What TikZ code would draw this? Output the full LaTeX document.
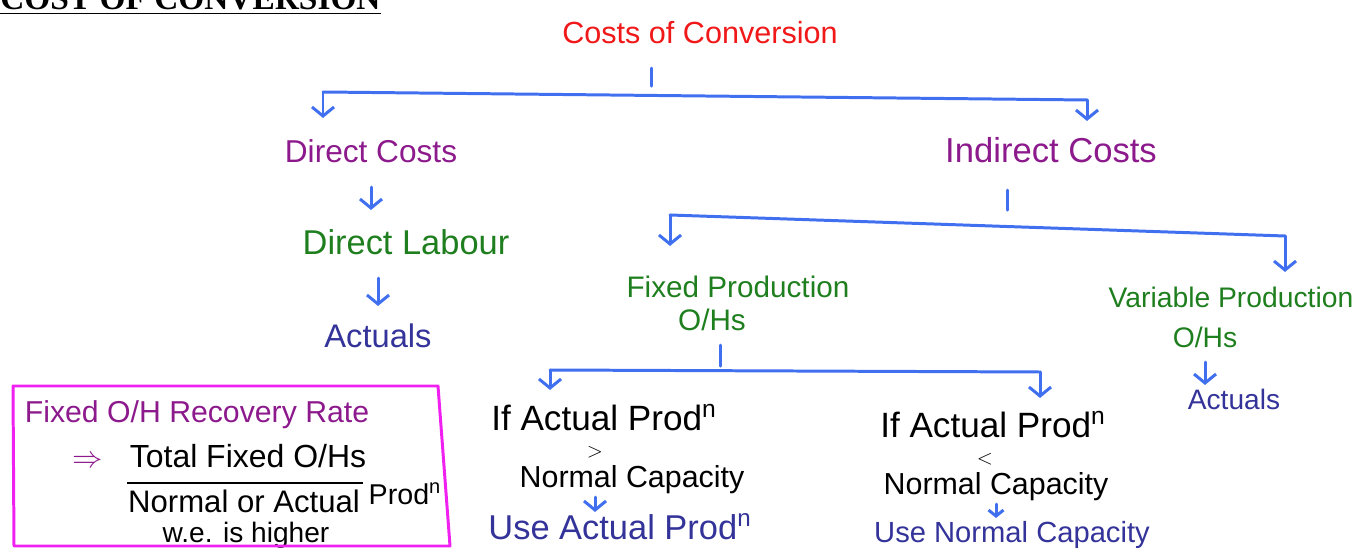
\documentclass[tikz,border=0pt]{standalone}
\usepackage{fontspec}
\setmainfont{Liberation Sans}
\newfontfamily\titlefont{Liberation Serif}
\usepackage{tikz}
\usetikzlibrary{arrows.meta}
\definecolor{cred}{HTML}{F01818}
\definecolor{cpurple}{HTML}{8C1A8C}
\definecolor{cgreen}{HTML}{1F7F1F}
\definecolor{cnavy}{HTML}{33339A}
\definecolor{cblue}{HTML}{4070F0}
\definecolor{cmagenta}{HTML}{F020F0}
\newcommand\fsz[1]{\fontsize{#1}{#1}\selectfont}

\begin{document}
\begin{tikzpicture}[x=0.02cm,y=-0.02cm,
    lbl/.style={inner sep=1pt, text height=13pt, text depth=4pt},
    line/.style={draw=cblue, line width=1.7pt, line cap=round, line join=round},
    arr/.style={line, -{Straight Barb[length=1.8mm,width=4.4mm]}},
    sarr/.style={line, -{Straight Barb[length=1.2mm,width=3mm]}}]
\useasboundingbox (0,0) rectangle (1371,553);

    \node[anchor=base west, inner sep=0pt, font=\titlefont\bfseries\fsz{19}] (title) at (0,10) {\underline{COST OF CONVERSION}};

    \node[lbl, text=cred, font=\fsz{17.4}] (coc) at (700,36) {Costs of Conversion};
    \node[lbl, text=cpurple, font=\fsz{18}] (dc) at (371,155) {Direct Costs};
    \node[lbl, text=cpurple, font=\fsz{19.7}] (ic) at (1051,155) {Indirect Costs};
    \node[lbl, text=cgreen, font=\fsz{19.6}] (dl) at (406,247) {Direct Labour};
    \node[lbl, text=cnavy, font=\fsz{18.6}] (dla) at (378,340) {Actuals};
    \node[lbl, text=cgreen, font=\fsz{16.9}] (fp) at (738,290) {Fixed Production};
    \node[lbl, text=cgreen, font=\fsz{16.9}] (fpo) at (712,323) {O/Hs};
    \node[lbl, text=cgreen, font=\fsz{16.1}] (vp) at (1231,300) {Variable Production};
    \node[lbl, text=cgreen, font=\fsz{16.1}] (vpo) at (1205,340) {O/Hs};
    \node[lbl, text=cnavy, font=\fsz{16}] (vpa) at (1234,402) {Actuals};

    % fixed overheads: the two cases
    \node[lbl, font=\fsz{20}] (c1a) at (604,423) {If Actual Prod\textsuperscript{n}};
    \node[inner sep=0pt, font=\fsz{12}] (c1b) at (595,452) {$>$};
    \node[lbl, font=\fsz{17.3}] (c1c) at (632,480) {Normal Capacity};
    \node[lbl, text=cnavy, font=\fsz{19.6}] (u1) at (620,532) {Use Actual Prod\textsuperscript{n}};
    \node[lbl, font=\fsz{20}] (c2a) at (993,430) {If Actual Prod\textsuperscript{n}};
    \node[inner sep=0pt, font=\fsz{12}] (c2b) at (985,459) {$<$};
    \node[lbl, font=\fsz{17.3}] (c2c) at (996,487) {Normal Capacity};
    \node[lbl, text=cnavy, font=\fsz{16.6}] (u2) at (1012,535) {Use Normal Capacity};

    % recovery rate box
    \node[lbl, text=cpurple, font=\fsz{17.2}] (rr) at (197,415) {Fixed O/H Recovery Rate};
    \node[lbl, text=cpurple, font=\fsz{18}] (imp) at (88,460) {$\Rightarrow$};
    \node[lbl, font=\fsz{18.2}] (num) at (248,460) {Total Fixed O/Hs};
    \node[lbl, font=\fsz{17.7}] (den) at (244,505) {Normal or Actual};
    \node[lbl, font=\fsz{16.3}] (dpr) at (405,497) {Prod\textsuperscript{n}};
    \node[lbl, font=\fsz{16}] (we) at (246,535) {w.e. is higher};
    \draw[line width=1.2pt] (127,483) -- (363,483);
    \draw[draw=cmagenta, line width=1.7pt, line join=round] (13,386) -- (438,386) -- (450,546) -- (14,546) -- cycle;

    \draw[line] (coc.south) ++(-49,15) -- ++(0,18);
    \coordinate (b1) at (323,92);
    \coordinate (b2) at (1087,100);
    \draw[line] (b1) -- (b2);
    \draw[arr, shorten >=0.4cm] (b1) -- (b1 |- dc.north);
    \draw[arr, shorten >=0.34cm] (b2) -- (b2 |- ic.north);

    \draw[arr, shorten <=0.3cm, shorten >=0.4cm] (dc.south) -- (dc.south |- dl.north);
    \draw[arr, shorten <=0.28cm, shorten >=0.34cm] (dla.north |- dl.south) -- (dla.north);

    \draw[line] (ic.south) ++(-44,18) -- ++(0,20);
    \coordinate (b3) at (670,215);
    \coordinate (b4) at (1285,236);
    \draw[line] (b3) -- (b4);
    \draw[arr, shorten >=0.54cm] (b3) -- (b3 |- fp.north);
    \draw[arr, shorten >=0.22cm] (b4) -- (b4 |- vp.north);
    \draw[arr, shorten <=0.1cm] (vpo.south) -- (vpo.south |- vpa.north);

    \draw[line] (fpo.south) ++(8,5) -- ++(0,21);
    \coordinate (b5) at (550,370);
    \coordinate (b6) at (1040,372);
    \draw[line] (b5) -- (b6);
    \draw[arr, shorten >=0.32cm] (b5) -- (b5 |- c1a.north);
    \draw[arr, shorten >=0.3cm] (b6) -- (b6 |- c2a.north);
    \draw[arr, shorten >=0.06cm] (c1c.south -| c1b) -- (u1.north -| c1b);
    \draw[sarr] (c2c.south) -- (c2c.south |- u2.north);
\end{tikzpicture}
\end{document}
